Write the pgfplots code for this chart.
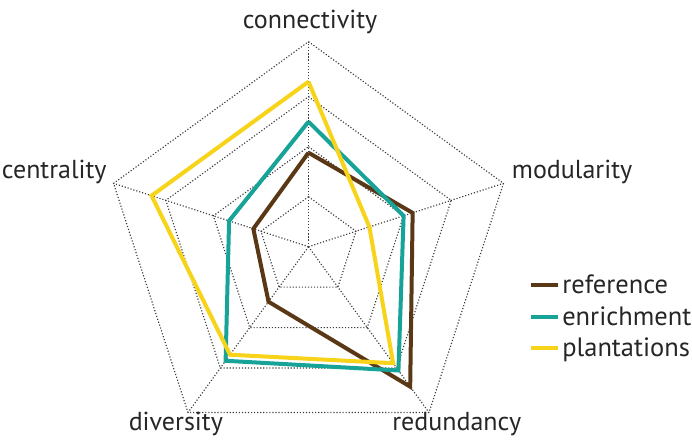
\documentclass[border=0pt]{standalone}
\usepackage{fontspec}
\setmainfont{PT Sans}
\usepackage{pgfplots}
\pgfplotsset{compat=1.18}
\usepgfplotslibrary{polar}
\usetikzlibrary{calc}
\definecolor{refbrown}{HTML}{5A3815}
\definecolor{enrteal}{HTML}{17A398}
\definecolor{plnyellow}{HTML}{F7D31A}
\definecolor{gridgray}{HTML}{3C3C3C}

\begin{document}
\begin{tikzpicture}
\begin{polaraxis}[
  scale only axis,width=410pt,height=410pt,
  ymin=0,ymax=4.1,hide axis,clip=false,
  xtick=\empty,ytick=\empty,
  legend style={draw=none,fill=none,inner sep=0pt,font=\fontsize{26.5}{28}\selectfont,
    at={(axis description cs:1.038,0.435)},anchor=north west,
    row sep=8pt,cells={anchor=west,text height=18pt,text depth=6pt,inner ysep=0pt},
    text=black!85},
  legend image code/.code={\draw[#1,line width=4pt] (0pt,0pt) -- (27pt,0pt);},
  grid line/.style={gridgray,line width=1.15pt,dash pattern=on 1.15pt off 1.9pt,mark=none,forget plot},
  series/.style={line width=4pt,mark=none,line join=miter},
]
\coordinate (c) at (axis cs:0,0);
% rings
\addplot[grid line] coordinates {(90,1) (18,1) (-54,1) (-126,1) (162,1) (90,1)};
\addplot[grid line] coordinates {(90,2) (18,2) (-54,2) (-126,2) (162,2) (90,2)};
\addplot[grid line] coordinates {(90,3) (18,3) (-54,3) (-126,3) (162,3) (90,3)};
\addplot[grid line] coordinates {(90,4.1) (18,4.1) (-54,4.1) (-126,4.1) (162,4.1) (90,4.1)};
% spokes
\addplot[grid line] coordinates {(90,0) (90,4.1)};
\addplot[grid line] coordinates {(18,0) (18,4.1)};
\addplot[grid line] coordinates {(-54,0) (-54,4.1)};
\addplot[grid line] coordinates {(-126,0) (-126,4.1)};
\addplot[grid line] coordinates {(162,0) (162,4.1)};
% connectivity, modularity, redundancy, diversity, centrality
\addplot[series,refbrown] coordinates {(90,1.88) (18,2.19) (-54,3.46) (-126,1.36) (162,1.16) (90,1.88)};
\addlegendentry{reference}
\addplot[series,enrteal] coordinates {(90,2.5) (18,2.0) (-54,3.06) (-126,2.82) (162,1.67) (90,2.5)};
\addlegendentry{enrichment}
\addplot[series,plnyellow] coordinates {(90,3.3) (18,1.28) (-54,2.88) (-126,2.67) (162,3.3) (90,3.3)};
\addlegendentry{plantations}
\end{polaraxis}
\begin{scope}[every node/.style={font=\fontsize{26}{30}\selectfont,text=black!85,inner sep=0pt}]
\node[anchor=base] at ($(c)+(1.5pt,218.2pt)$) {connectivity};
\node[anchor=base east] at ($(c)+(-201.8pt,68.4pt)$) {centrality};
\node[anchor=base west] at ($(c)+(203.2pt,68.4pt)$) {modularity};
\node[anchor=base] at ($(c)+(-132.7pt,-184pt)$) {diversity};
\node[anchor=base] at ($(c)+(148.2pt,-184pt)$) {redundancy};
\end{scope}
\pgfresetboundingbox
\path[use as bounding box] ($(c)+(-308.5pt,-197.3pt)$) rectangle ($(c)+(383.5pt,246.7pt)$);
\end{tikzpicture}
\end{document}
